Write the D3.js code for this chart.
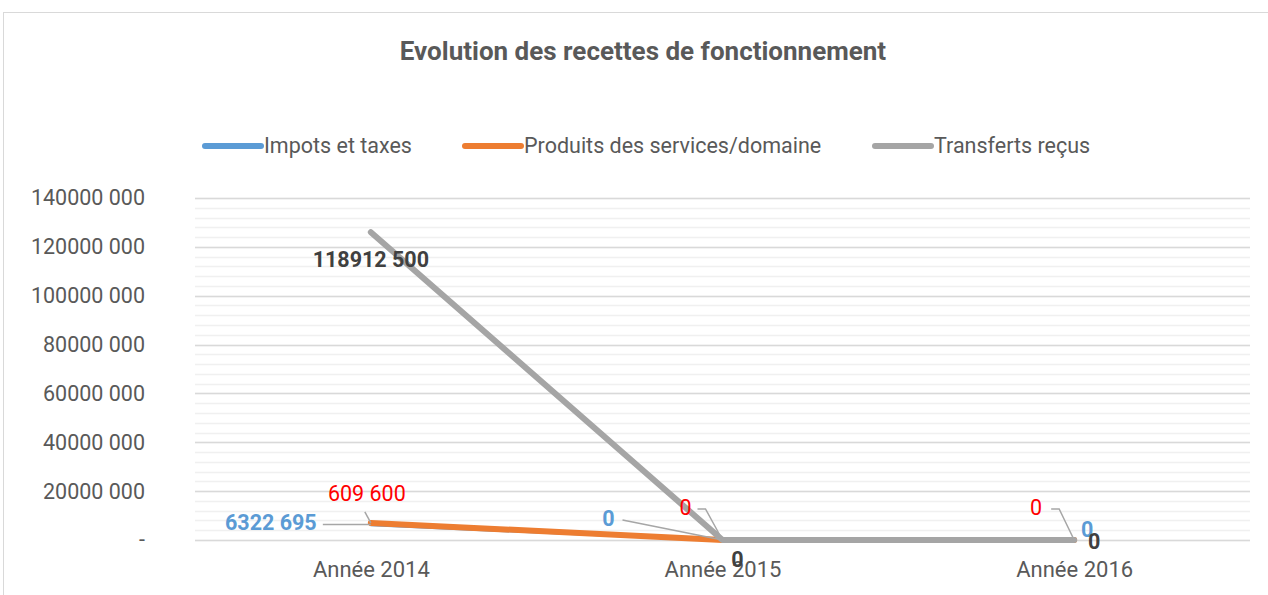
<!DOCTYPE html>
<html>
<head>
<meta charset="utf-8">
<script src="https://cdn.jsdelivr.net/npm/d3@7"></script>
<style>
body { margin: 0; background: #fff; }
text { font-family: "Roboto", sans-serif; }
</style>
</head>
<body>
<div id="chart"></div>
<script>
// data
const years = ['Année 2014', 'Année 2015', 'Année 2016']
const seriesNames = ['Impots et taxes', 'Produits des services/domaine', 'Transferts reçus']
const impots = [6322695, 0, 0]
const produits = [7000000, 0, 0]
const transferts = [126000000, 0, 0]
const impotsLabels = ['6322 695', '0', '0']
const produitsLabels = ['609 600', '0', '0']
const transfertsLabels = ['118912 500', '0', '0']
const yTicks = [0, 20000000, 40000000, 60000000, 80000000, 100000000, 120000000, 140000000]

const W = 1268, H = 595
const margin = { left: 195, right: 18, top: 198, bottom: 55 }
const width = W - margin.left - margin.right
const height = H - margin.top - margin.bottom

const svg = d3.select('#chart').append('svg')
    .attr('width', W).attr('height', H)

// outer frame
svg.append('rect')
    .attr('x', 3.5).attr('y', 12.5)
    .attr('width', W + 10).attr('height', H)
    .attr('fill', 'none').attr('stroke', '#d9d9d9')

svg.append('text')
    .attr('x', 643).attr('y', 60)
    .attr('text-anchor', 'middle')
    .attr('font-size', 26).attr('font-weight', 'bold')
    .attr('fill', '#595959')
    .text('Evolution des recettes de fonctionnement')

const g = svg.append('g').attr('transform', `translate(${margin.left},${margin.top})`)

const x = d3.scalePoint().domain(years).range([0, width]).padding(0.5)
const y = d3.scaleLinear().domain([0, 140000000]).range([height, 0])

// minor grid
g.selectAll('.minor')
    .data(d3.range(0, 140000001, 4000000))
    .join('line')
    .attr('x1', 0).attr('x2', width)
    .attr('y1', d => Math.round(y(d)) + 0.5).attr('y2', d => Math.round(y(d)) + 0.5)
    .attr('stroke', '#f0f0f0').attr('stroke-width', 1.5)

// major grid
g.selectAll('.major')
    .data(yTicks)
    .join('line')
    .attr('x1', 0).attr('x2', width)
    .attr('y1', d => Math.round(y(d)) + 0.5).attr('y2', d => Math.round(y(d)) + 0.5)
    .attr('stroke', '#d9d9d9').attr('stroke-width', 1.5)

// y axis labels
const fmt = v => v === 0 ? '-' : String(Math.floor(v / 1000)) + ' ' + d3.format('03')(v % 1000)
const yAxis = g.append('g')
    .call(d3.axisLeft(y).tickValues(yTicks).tickSize(0).tickPadding(50).tickFormat(fmt))
yAxis.select('.domain').remove()
yAxis.selectAll('text')
    .attr('font-size', 21.5).attr('fill', '#595959')
    .style('font-family', 'Roboto, sans-serif')

// x axis labels
const xAxis = g.append('g')
    .attr('transform', `translate(0,${height})`)
    .call(d3.axisBottom(x).tickSize(0).tickPadding(21))
xAxis.select('.domain').remove()
xAxis.selectAll('text')
    .attr('font-size', 22).attr('fill', '#595959')
    .style('font-family', 'Roboto, sans-serif')

const series = [
    { name: seriesNames[0], values: impots, labels: impotsLabels, color: '#5b9bd5', w: 3.5 },
    { name: seriesNames[1], values: produits, labels: produitsLabels, color: '#ed7d31', w: 6 },
    { name: seriesNames[2], values: transferts, labels: transfertsLabels, color: '#a5a5a5', w: 6 }
]

const line = d3.line()
    .x((d, i) => x(years[i]))
    .y(d => y(d))

series.forEach(s => {
    g.append('path')
        .datum(s.values)
        .attr('d', line)
        .attr('fill', 'none')
        .attr('stroke', s.color)
        .attr('stroke-width', s.w)
        .attr('stroke-linecap', 'round')
        .attr('stroke-linejoin', 'round')
})

// data labels (offsets in px relative to the point) and leader lines
const labelPos = [
    // impots
    [{ dx: -100, dy: 5, leader: [[-48, 0], [0, 0]] },
     { dx: -114, dy: -14, leader: [[-100, -20], [0, 0]] },
     { dx: 13, dy: -3, leader: null }],
    // produits
    [{ dx: -4, dy: -22, leader: [[-6, -11], [0, 0]] },
     { dx: -37, dy: -25, leader: [[-25, -31], [-17, -31], [0, 0]] },
     { dx: -38, dy: -25, leader: [[-23, -31], [-15, -31], [0, 0]] }],
    // transferts
    [{ dx: 0, dy: 35, leader: null },
     { dx: 15, dy: 27, leader: null },
     { dx: 20, dy: 9, leader: null }]
]
const labelStyle = [
    { fill: '#5b9bd5', weight: 'bold' },
    { fill: '#ff0000', weight: 'normal' },
    { fill: '#404040', weight: 'bold' }
]

series.forEach((s, si) => {
    s.values.forEach((v, i) => {
        const px = x(years[i]), py = y(v)
        const p = labelPos[si][i]
        if (p.leader) {
            g.append('path')
                .attr('d', d3.line()(p.leader.map(q => [px + q[0], py + q[1]])))
                .attr('fill', 'none')
                .attr('stroke', '#a6a6a6')
                .attr('stroke-width', 1.5)
        }
        g.append('text')
            .attr('x', px + p.dx).attr('y', py + p.dy)
            .attr('text-anchor', 'middle')
            .attr('font-size', 21.5)
            .attr('font-weight', labelStyle[si].weight)
            .attr('fill', labelStyle[si].fill)
            .text(s.labels[i])
    })
})

// legend
const legendX = [205, 465, 875]
const legend = svg.append('g')
series.forEach((s, i) => {
    legend.append('line')
        .attr('x1', legendX[i]).attr('x2', legendX[i] + 56)
        .attr('y1', 146).attr('y2', 146)
        .attr('stroke', s.color).attr('stroke-width', 6)
        .attr('stroke-linecap', 'round')
    legend.append('text')
        .attr('x', legendX[i] + 59).attr('y', 153)
        .attr('font-size', 21.5).attr('fill', '#595959')
        .text(s.name)
})
</script>
</body>
</html>
